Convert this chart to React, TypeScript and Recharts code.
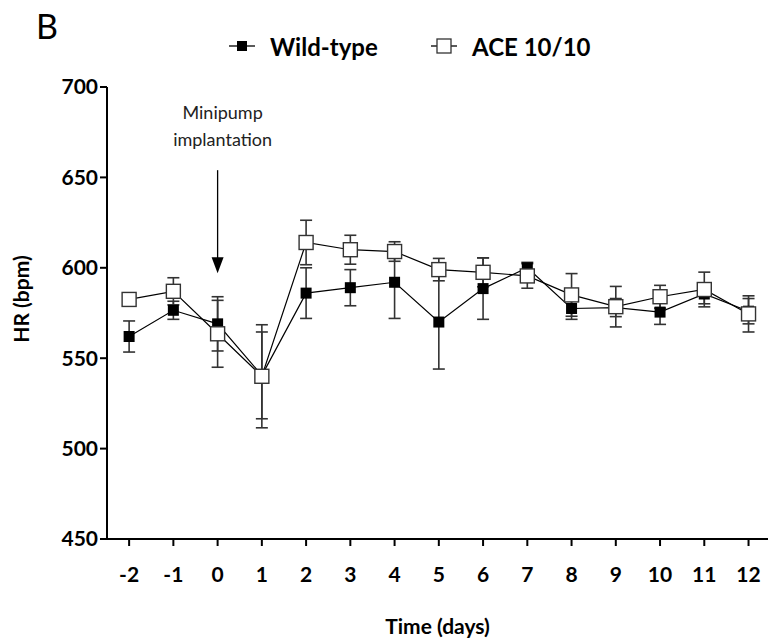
import {
  ComposedChart,
  Line,
  XAxis,
  YAxis,
  ErrorBar,
  Legend,
  ReferenceLine,
} from "recharts";

// days relative to minipump implantation
const days = [-2, -1, 0, 1, 2, 3, 4, 5, 6, 7, 8, 9, 10, 11, 12];

// HR (bpm), mean and SEM
const wildType = [562, 576.5, 569, 540.5, 586, 589, 592, 570, 588.5, 600, 577.5, 578, 575.5, 585.5, 576];
const wildTypeSem = [8.6, 5, 15, 24, 14, 10, 20, 26, 17, 3, 6, 5, 6.8, 5.4, 7];
const ace1010 = [582.5, 587, 563.5, 540, 614, 610, 609, 599, 597.5, 595.5, 585, 578.5, 584, 588, 574.5];
const ace1010Sem = [3, 7.5, 18.5, 28.5, 12.3, 8, 5.4, 6.2, 8, 6.8, 11.8, 11.2, 6.3, 9.6, 10];

const yTicks = [450, 500, 550, 600, 650, 700];
const legendOrder = ["wt", "ace"];

const data = days.map((day, i) => ({
  day,
  wt: wildType[i],
  wtErr: wildTypeSem[i],
  ace: ace1010[i],
  aceErr: ace1010Sem[i],
}));

const FONT = "Lato, 'Open Sans', sans-serif";

const tickStyle = { fontSize: 21, fontWeight: 700, fill: "#000", fontFamily: FONT };

const filledSquare = (props: any) => {
  const { cx, cy, index } = props;
  return <rect key={`wt-${index}`} x={cx - 5.5} y={cy - 5.5} width={11} height={11} fill="#000" />;
};

const openSquare = (props: any) => {
  const { cx, cy, index } = props;
  return (
    <rect
      key={`ace-${index}`}
      x={cx - 7}
      y={cy - 7}
      width={14}
      height={14}
      fill="#fff"
      stroke="#333"
      strokeWidth={1.4}
    />
  );
};

const renderLegend = (props: any) => {
  const payload = [...(props.payload || [])].sort(
    (a: any, b: any) => legendOrder.indexOf(a.dataKey) - legendOrder.indexOf(b.dataKey)
  );
  return (
    <svg width={400} height={34} style={{ overflow: "visible" }}>
      {payload.map((entry: any, i: number) => {
        const x0 = i * 202;
        const filled = entry.dataKey === "wt";
        return (
          <g key={entry.value}>
            <line x1={x0} x2={x0 + 26} y1={17} y2={17} stroke="#000" strokeWidth={1.3} />
            {filled ? (
              <rect x={x0 + 8} y={12} width={10} height={10} fill="#000" />
            ) : (
              <rect x={x0 + 6} y={10} width={14} height={14} fill="#fff" stroke="#333" strokeWidth={1.3} />
            )}
            <text
              x={x0 + 41}
              y={17}
              dominantBaseline="central"
              fontSize={24}
              fontWeight={700}
              fontFamily={FONT}
              fill="#000"
            >
              {entry.value}
            </text>
          </g>
        );
      })}
    </svg>
  );
};

const ArrowNote = (p: any) => {
  const { x1, y1, y2 } = p;
  const top = Math.min(y1, y2);
  const tip = Math.max(y1, y2);
  return (
    <g>
      <line x1={x1} y1={top} x2={x1} y2={tip - 14} stroke="#000" strokeWidth={1.3} />
      <polygon points={`${x1 - 6},${tip - 16} ${x1 + 6},${tip - 16} ${x1},${tip}`} fill="#000" />
      <text x={x1 + 5} y={top - 51} textAnchor="middle" fontSize={18} fontFamily={FONT} fill="#222">
        Minipump
      </text>
      <text x={x1 + 5} y={top - 24} textAnchor="middle" fontSize={18} fontFamily={FONT} fill="#222">
        implantation
      </text>
    </g>
  );
};

export default function App() {
  return (
    <div style={{ position: "absolute", left: 0, top: 0, width: 768, height: 642, background: "#fff" }}>
      <div style={{ position: "absolute", left: 36, top: 6, fontSize: 34, lineHeight: "40px", fontFamily: FONT, color: "#000" }}>
        B
      </div>
      <ComposedChart width={768} height={642} data={data} margin={{ top: 87, right: 0, bottom: 0, left: 0 }}>
        <XAxis
          dataKey="day"
          type="number"
          domain={[-2.5, 12.44]}
          ticks={days}
          allowDataOverflow
          height={103}
          tick={tickStyle}
          tickSize={7}
          tickMargin={21}
          axisLine={{ stroke: "#000", strokeWidth: 2 }}
          tickLine={{ stroke: "#000", strokeWidth: 2 }}
          label={{
            value: "Time (days)",
            position: "insideBottom",
            offset: 8,
            style: { fontSize: 21, fontWeight: 700, fill: "#000", fontFamily: FONT },
          }}
        />
        <YAxis
          type="number"
          domain={[450, 700]}
          ticks={yTicks}
          width={107}
          tick={tickStyle}
          tickSize={7}
          tickMargin={2}
          axisLine={{ stroke: "#000", strokeWidth: 2 }}
          tickLine={{ stroke: "#000", strokeWidth: 2 }}
          label={{
            value: "HR (bpm)",
            angle: -90,
            position: "center",
            dx: -32,
            dy: -14,
            style: { fontSize: 21, fontWeight: 700, fill: "#000", fontFamily: FONT },
          }}
        />
        <Legend
          layout="horizontal"
          verticalAlign="middle"
          align="center"
          wrapperStyle={{ top: 29, left: 229, width: 400 }}
          content={renderLegend}
        />
        <ReferenceLine
          segment={[
            { x: 0, y: 654 },
            { x: 0, y: 597 },
          ]}
          shape={ArrowNote}
        />
        <Line
          dataKey="wt"
          name="Wild-type"
          stroke="#000"
          strokeWidth={1.2}
          dot={filledSquare}
          activeDot={false}
          isAnimationActive={false}
        >
          <ErrorBar dataKey="wtErr" direction="y" width={6} stroke="#333" strokeWidth={1.6} />
        </Line>
        <Line
          dataKey="ace"
          name="ACE 10/10"
          stroke="#000"
          strokeWidth={1.2}
          dot={openSquare}
          activeDot={false}
          isAnimationActive={false}
        >
          <ErrorBar dataKey="aceErr" direction="y" width={6} stroke="#333" strokeWidth={1.6} />
        </Line>
      </ComposedChart>
    </div>
  );
}
